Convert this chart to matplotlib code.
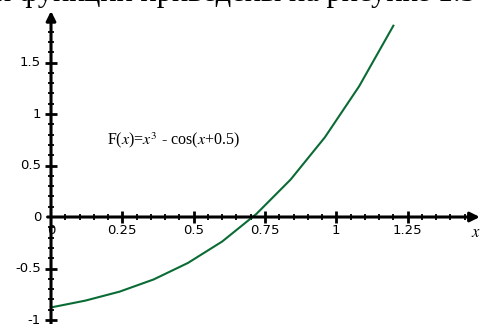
import matplotlib
matplotlib.use('Agg')
import matplotlib.pyplot as plt

plt.rcParams['font.family'] = ['DejaVu Sans']
plt.rcParams['mathtext.fontset'] = 'stix'

# значения F(x) = x^3 - cos(x + 0.5) в узлах
x_vals = [0.0, 0.12, 0.24, 0.36, 0.48, 0.60, 0.72, 0.84, 0.96, 1.08, 1.20]
f_vals = [-0.878, -0.812, -0.725, -0.606, -0.446, -0.238, 0.030, 0.364, 0.774, 1.269, 1.857]

x_ticks = [0, 0.25, 0.5, 0.75, 1, 1.25]
x_tick_labels = ['0', '0.25', '0.5', '0.75', '1', '1.25']
y_ticks = [-1, -0.5, 0, 0.5, 1, 1.5]
y_tick_labels = ['-1', '-0.5', '0', '0.5', '1', '1.5']

fig = plt.figure(figsize=(4.8, 3.24), dpi=100)
ax = fig.add_axes([0, 0, 1, 1])
ax.set_xlim(-0.1788, 1.5037)
ax.set_ylim(-1.0388, 2.1068)
ax.axis('off')

# оси со стрелками
arrow = dict(arrowstyle='-|>', lw=2.2, color='k', mutation_scale=14, shrinkA=0, shrinkB=0)
ax.annotate('', xy=(1.503, 0), xytext=(-0.012, 0), arrowprops=arrow)
ax.annotate('', xy=(0, 2.0), xytext=(0, -1.05), arrowprops=arrow)

# засечки
dx = 285.3 / 100 * 72
dy = 103.0 / 100 * 72
for i in range(1, 30):
    t = i * 0.05
    major = i % 5 == 0
    h = 4.5 if major else 2.5
    ax.plot([t, t], [-h / dy, h / dy], color='k', lw=2.0 if major else 1.3,
            solid_capstyle='butt')
for i in range(-10, 20):
    if i == 0:
        continue
    t = i * 0.1
    major = i % 5 == 0
    h = 4.5 if major else 2.5
    ax.plot([-h / dx, h / dx], [t, t], color='k', lw=2.0 if major else 1.3,
            solid_capstyle='butt')

for t, lab in zip(x_ticks, x_tick_labels):
    ax.text(t, -0.065, lab, ha='center', va='top', fontsize=9.5)
for t, lab in zip(y_ticks, y_tick_labels):
    ax.text(-0.035, t, lab, ha='right', va='center', fontsize=9.5)
ax.text(1.49, -0.06, r'$x$', ha='center', va='top', fontsize=12)

ax.plot(x_vals, f_vals, color='#0a6b35', lw=1.5)

ax.text(0.195, 0.75, r'F($x$)=$x^3$ - cos($x$+0.5)', fontsize=11.5,
        family='Liberation Serif', va='center', ha='left')

# строка текста над рисунком
fig.text(-5 / 480, 1.0 - 1 / 324, 'и функции приведены на рисунке 1.3',
         family='Liberation Serif', fontsize=22, va='baseline', ha='left')

fig.savefig('out.png', dpi=100)
